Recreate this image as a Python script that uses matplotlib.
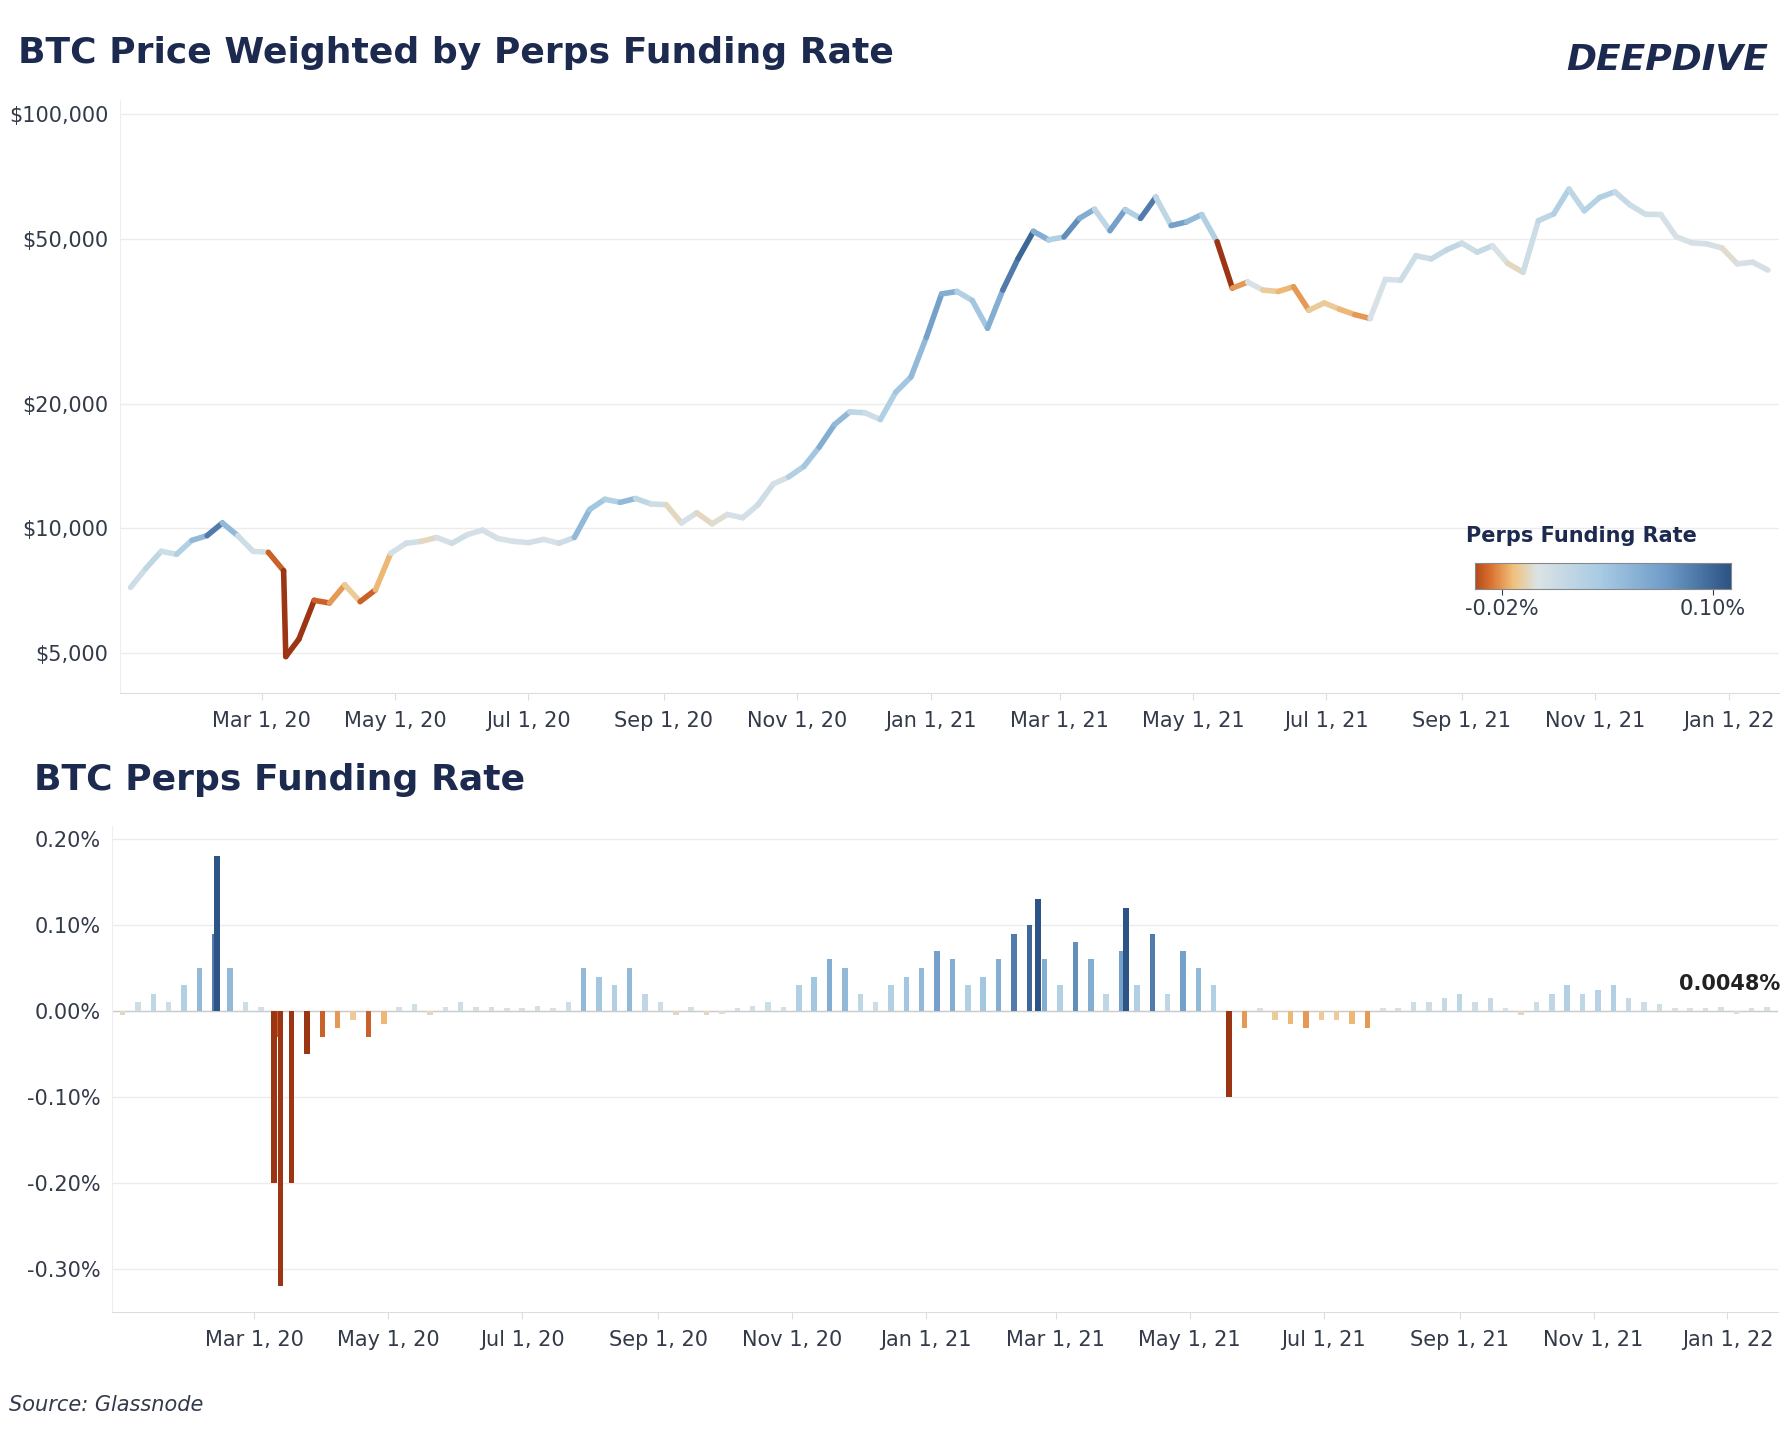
import numpy as np
import pandas as pd
import matplotlib
matplotlib.use("Agg")
import matplotlib.pyplot as plt
import matplotlib.dates as mdates
from matplotlib.collections import LineCollection
from matplotlib.colors import LinearSegmentedColormap, TwoSlopeNorm
from matplotlib.ticker import FuncFormatter

dates = list(pd.date_range("2020-01-01", "2022-01-19", freq="7D"))
price = [7200, 8000, 8800, 8650, 9350, 9600, 10300, 9600, 8800, 8750, 7900, 5400, 6700, 6600, 7300, 6650,
         7100, 8700, 9200, 9300, 9500, 9200, 9650, 9900, 9450, 9300, 9230, 9400, 9200, 9500, 11100, 11750,
         11550, 11800, 11450, 11400, 10300, 10900, 10250, 10800, 10600, 11400, 12800, 13300, 14100, 15700,
         17800, 19100, 19000, 18300, 21300, 23200, 28900,
         36800, 37300, 35500, 30400, 37600, 44800, 52100, 49700, 50500, 56000, 58900, 52300, 58800, 56000,
         63000, 53800, 54900, 57200, 49200, 38000, 39300, 37600, 37300, 38300, 33600, 35000, 33800, 32800,
         32100, 39900, 39700, 45500, 44700, 47000, 48800, 46400, 48100, 43600, 41500, 55300, 57400, 65900,
         58400, 62900, 64900, 60300, 57300, 57200, 50600, 48900, 48600, 47500, 43500, 43900, 42000]
funding = [-0.005, 0.01, 0.02, 0.01, 0.03, 0.05, 0.09, 0.05, 0.01, 0.005, -0.03, -0.2, -0.05, -0.03, -0.02, -0.01,
           -0.03, -0.015, 0.005, 0.008, -0.005, 0.005, 0.01, 0.005, 0.005, 0.003, 0.004, 0.006, 0.003, 0.01, 0.05, 0.04,
           0.03, 0.05, 0.02, 0.01, -0.005, 0.005, -0.005, -0.003, 0.004, 0.006, 0.01, 0.005, 0.03, 0.04,
           0.06, 0.05, 0.02, 0.01, 0.03, 0.04, 0.05,
           0.07, 0.06, 0.03, 0.04, 0.06, 0.09, 0.10, 0.06, 0.03, 0.08, 0.06, 0.02, 0.07, 0.03,
           0.09, 0.02, 0.07, 0.05, 0.03, -0.10, -0.02, 0.003, -0.01, -0.015, -0.02, -0.01, -0.01, -0.015,
           -0.02, 0.003, 0.004, 0.01, 0.01, 0.015, 0.02, 0.01, 0.015, 0.003, -0.005, 0.01, 0.02, 0.03,
           0.02, 0.025, 0.03, 0.015, 0.01, 0.008, 0.004, 0.003, 0.004, 0.005, -0.003, 0.004, 0.0048]
# notable spike days
spike_dates = [pd.Timestamp("2020-02-13"), pd.Timestamp("2020-03-13"), pd.Timestamp("2020-03-10"),
               pd.Timestamp("2021-02-21"), pd.Timestamp("2021-04-02")]
spike_vals = [0.18, -0.32, -0.20, 0.13, 0.12]
crash_date = [pd.Timestamp("2020-03-12")]
crash_price = [4900]

n = min(len(dates), len(price), len(funding))
dates, price, funding = dates[:n], price[:n], funding[:n]

cmap = LinearSegmentedColormap.from_list("fr", ["#9c3514", "#d9702e", "#f0c27e", "#dbe3e6", "#a8cbe4", "#6f9cc8", "#2c5486"],)
norm = TwoSlopeNorm(vmin=-0.04, vcenter=0.0, vmax=0.11)

fig = plt.figure(figsize=(17.86, 14.32), dpi=100)
navy = "#1c2a4f"
tc = "#333a4a"

# top
ax = fig.add_axes([0.067, 0.516, 0.929, 0.414])
pd_dates = dates[:11] + crash_date + dates[11:]
pr = price[:11] + crash_price + price[11:]
fr = funding[:11] + [-0.05] + funding[11:]
x = mdates.date2num(pd_dates)
y = np.array(pr, dtype=float)
pts = np.column_stack([x, y]).reshape(-1, 1, 2)
segs = np.concatenate([pts[:-1], pts[1:]], axis=1)
lc = LineCollection(segs, cmap=cmap, norm=norm, linewidths=4, capstyle="round")
lc.set_array(np.array(fr[1:]))
ax.add_collection(lc)
ax.set_yscale("log")
ax.set_ylim(4000, 108000)
ax.set_xlim(pd.Timestamp("2019-12-27"), pd.Timestamp("2022-01-24"))
ax.set_yticks([5000, 10000, 20000, 50000, 100000])
ax.yaxis.set_major_formatter(FuncFormatter(lambda v, p: f"${v:,.0f}"))
ax.yaxis.set_minor_locator(plt.NullLocator())

# bottom
bx = fig.add_axes([0.0625, 0.084, 0.933, 0.339])
bx.set_axisbelow(True)
bd = dates + spike_dates
bv = funding + spike_vals
bx.bar(bd, bv, width=2.5, color=cmap(norm(np.array(bv))), zorder=2)
bx.axhline(0, color="#cccccc", lw=1, zorder=1)
bx.set_ylim(-0.35, 0.215)
bx.set_xlim(pd.Timestamp("2019-12-27"), pd.Timestamp("2022-01-24"))
bx.set_yticks([-0.3, -0.2, -0.1, 0, 0.1, 0.2])
bx.yaxis.set_major_formatter(FuncFormatter(lambda v, p: f"{v:.2f}%"))
bx.text(pd.Timestamp("2022-01-25"), 0.02, "0.0048%", ha="right", va="bottom", fontsize=15, fontweight="bold", color="#222")

ticks = pd.date_range("2020-03-01", "2022-01-01", freq="2MS")
for a in (ax, bx):
    a.set_xticks(ticks)
    a.xaxis.set_major_formatter(mdates.DateFormatter("%b %-d, %y"))
    a.tick_params(axis="both", labelsize=15, colors=tc, length=0, pad=8)
    a.tick_params(axis="x", length=5, color="#dddddd")
    a.grid(axis="y", color="#ececec", lw=1, zorder=0)
    for s in a.spines.values():
        s.set_visible(False)
    a.spines["bottom"].set_visible(True)
    a.spines["bottom"].set_color("#dddddd")
    a.spines["left"].set_visible(True)
    a.spines["left"].set_color("#eeeeee")

fig.text(0.01, 0.963, "BTC Price Weighted by Perps Funding Rate", fontsize=26, fontweight="bold", color=navy, va="center")
fig.text(0.019, 0.455, "BTC Perps Funding Rate", fontsize=26, fontweight="bold", color=navy, va="center")
fig.text(0.005, 0.019, "Source: Glassnode", fontsize=15, style="italic", color=tc, va="center")
fig.text(0.99, 0.958, "DEEPDIVE", fontsize=26, fontweight="bold", style="italic", color=navy, ha="right", va="center")

cax = fig.add_axes([0.826, 0.589, 0.143, 0.018])
grad = np.linspace(-0.035, 0.11, 256).reshape(1, -1)
cax.imshow(grad, aspect="auto", cmap=cmap, norm=norm, extent=[-0.035, 0.11, 0, 1])
cax.set_xticks([-0.02, 0.10])
cax.set_xticklabels(["-0.02%", "0.10%"])
cax.set_yticks([])
cax.tick_params(labelsize=15, colors=tc, length=4)
for s in cax.spines.values():
    s.set_color("#888888")
fig.text(0.821, 0.626, "Perps Funding Rate", fontsize=15, fontweight="bold", color=navy, va="center")

fig.savefig("out.png", dpi=100, facecolor="white")
